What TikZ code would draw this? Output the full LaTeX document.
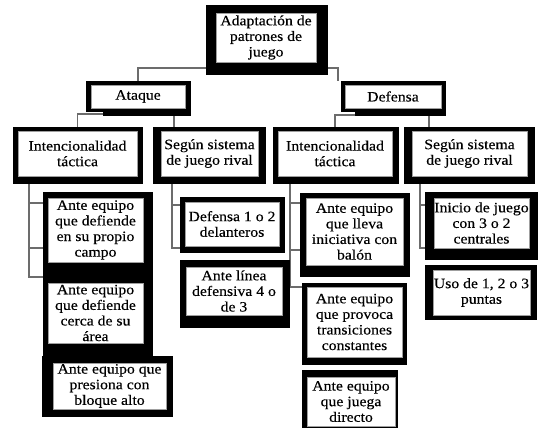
\documentclass[tikz,border=0pt]{standalone}
\usepackage{fontspec}
\setmainfont{Liberation Serif}[FakeStretch=1.10,FakeBold=0.35]
\pgfdeclarelayer{lines}
\pgfdeclarelayer{frames}
\pgfsetlayers{lines,frames,main}
\tikzset{
  wbox/.style={draw=gray!75, line width=0.8pt, fill=white, inner sep=0pt,
    align=center, font=\fontsize{14.3}{15.6}\selectfont},
  conn/.style={draw=gray!85!black, line width=1.2pt},
  frame/.style={fill=black}
}
% white text box given by its corners: name, x1, y1, x2, y2, text
\newcommand\wboxat[6]{%
  \node[wbox, minimum width={#4-#2}, minimum height={#5-#3}]
    (#1) at ({(#2+#4)/2},{(#3+#5)/2}) {#6};}
\begin{document}
\begin{tikzpicture}[x=1pt,y=-1pt]
\useasboundingbox (0,0) rectangle (539,428);

% heavy black frames behind the boxes
\begin{pgfonlayer}{frames}
  \fill[frame] (206,5) rectangle (328,75);
  \fill[frame] (86,81) rectangle (191,112);
  \fill[frame] (103,106) rectangle (191,116);
  \fill[frame] (341,81) rectangle (446,112);
  \fill[frame] (355,106) rectangle (446,116);
  \fill[frame] (13,127) rectangle (143,184);
  \fill[frame] (153,127) rectangle (266,184);
  \fill[frame] (273,127) rectangle (399,184);
  \fill[frame] (404,127) rectangle (535,184);
  \fill[frame] (43,192) rectangle (153,357);
  \fill[frame] (42,356) rectangle (173,417);
  \fill[frame] (180,197) rectangle (285,253);
  \fill[frame] (180,260) rectangle (290,328);
  \fill[frame] (300,193) rectangle (410,277);
  \fill[frame] (302,283) rectangle (407,365);
  \fill[frame] (302,370) rectangle (398,428);
  \fill[frame] (425,192) rectangle (538,260);
  \fill[frame] (425,265) rectangle (537,320);
\end{pgfonlayer}

% boxes
\wboxat{root}{216}{13}{316}{62}{Adaptación de\\patrones de\\juego}
\wboxat{ataque}{91}{85}{185}{108}{Ataque}
\wboxat{defensa}{345}{85}{441}{108}{Defensa}
\wboxat{LI}{18}{131}{137}{176}{Intencionalidad\\táctica}
\wboxat{LS}{161}{131}{258}{176}{Según sistema\\de juego rival}
\wboxat{RI}{278}{131}{392}{176}{Intencionalidad\\táctica}
\wboxat{RS}{412}{131}{527}{176}{Según sistema\\de juego rival}
\wboxat{A1}{48}{198}{143}{262}{Ante equipo\\que defiende\\en su propio\\campo}
\wboxat{A2}{48}{283}{143}{343}{Ante equipo\\que defiende\\cerca de su\\área}
\wboxat{A3}{53}{363}{166}{409}{Ante equipo que\\presiona con\\bloque alto}
\wboxat{B1}{185}{202}{279}{246}{Defensa 1 o 2\\delanteros}
\wboxat{B2}{186}{267}{282}{315}{Ante línea\\defensiva 4 o\\de 3}
\wboxat{C1}{306}{198}{403}{265}{Ante equipo\\que lleva\\iniciativa con\\balón}
\wboxat{C2}{307}{287}{402}{357}{Ante equipo\\que provoca\\transiciones\\constantes}
\wboxat{C3}{307}{377}{395}{426}{Ante equipo\\que juega\\directo}
\wboxat{D1}{434}{198}{529}{248}{Inicio de juego\\con 3 o 2\\centrales}
\wboxat{D2}{433}{270}{530}{315}{Uso de 1, 2 o 3\\puntas}

% connector junctions and tick ends
\coordinate (rj) at (267,68);
\coordinate (dtop) at (338,81);
\coordinate (aj) at (138,114);
\coordinate (lstop) at (174,127);
\coordinate (dj) at (393,115);
\coordinate (rstop) at (429,127);
\coordinate (liv) at (29,176);
\coordinate (a1t) at (43,203);
\coordinate (a2t) at (43,248);
\coordinate (a3t) at (43,277);
\coordinate (lsv) at (172,176);
\coordinate (b1t) at (180,205);
\coordinate (b2t) at (180,248);
\coordinate (riv) at (290,176);
\coordinate (c1t) at (300,203);
\coordinate (c2t) at (300,250);
\coordinate (c3t) at (302,287);
\coordinate (rsv) at (420,176);
\coordinate (d1t) at (425,205);
\coordinate (d2t) at (425,248);

\begin{pgfonlayer}{lines}
  \draw[conn] (ataque.north) |- (rj) -| (dtop);
  \draw[conn] (LI.north) |- (aj) -| (lstop);
  \draw[conn] (RI.north) |- (dj) -| (rstop);
  \draw[conn] (liv) |- (a1t);
  \draw[conn] (liv) |- (a2t);
  \draw[conn] (liv) |- (a3t);
  \draw[conn] (lsv) |- (b1t);
  \draw[conn] (lsv) |- (b2t);
  \draw[conn] (riv) |- (c1t);
  \draw[conn] (riv) |- (c2t);
  \draw[conn] (riv) |- (c3t);
  \draw[conn] (rsv) |- (d1t);
  \draw[conn] (rsv) |- (d2t);
\end{pgfonlayer}
\end{tikzpicture}
\end{document}
